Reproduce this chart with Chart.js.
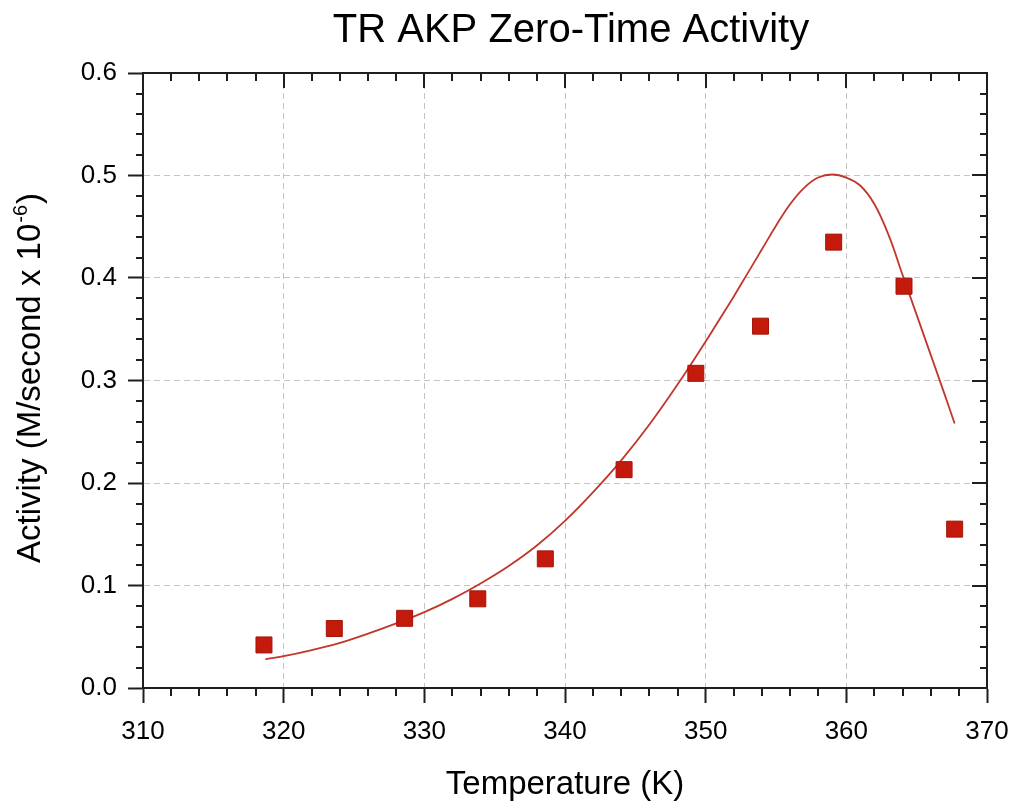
<!DOCTYPE html>
<html>
<head>
<meta charset="utf-8">
<title>TR AKP Zero-Time Activity</title>
<script src="https://cdn.jsdelivr.net/npm/chart.js@4.4.0/dist/chart.umd.min.js"></script>
<style>
  body { margin: 0; background: #fff; }
  canvas { display: block; }
</style>
</head>
<body>
<canvas id="chart" width="1015" height="809"></canvas>
<script>
// measured zero-time activity (M/second x 10^-6) vs temperature (K)
const temperatures = [318.6, 323.6, 328.6, 333.8, 338.6, 344.2, 349.3, 353.9, 359.1, 364.1, 367.7];
const activity     = [0.042, 0.058, 0.068, 0.087, 0.126, 0.213, 0.307, 0.353, 0.435, 0.392, 0.155];

// fitted model curve
const fitTemps = [318.7, 320, 322, 324, 326, 328, 330, 332, 334, 336, 338, 340, 342, 344, 346, 348,
                  350, 351, 352, 353, 354, 355, 356, 357, 358, 359, 360, 361, 362, 363, 364, 365, 366, 367, 367.7];
const fitActivity = [0.028, 0.031, 0.037, 0.044, 0.053, 0.063, 0.074, 0.087, 0.102, 0.119, 0.139, 0.163,
                     0.191, 0.222, 0.257, 0.296, 0.338, 0.360, 0.382, 0.405, 0.428, 0.451, 0.472, 0.488,
                     0.498, 0.501, 0.498, 0.490, 0.472, 0.442, 0.403, 0.364, 0.325, 0.286, 0.258];

const xTicks = [310, 320, 330, 340, 350, 360, 370];
const yTicks = [0.0, 0.1, 0.2, 0.3, 0.4, 0.5, 0.6];

const axisColor = '#1e1e1e';
const gridColor = '#c4c4c4';
const fontFamily = '"Liberation Sans", Arial, Helvetica, sans-serif';

// hide the grid lines that fall on the frame
const innerGrid = ctx => (ctx.index === 0 || ctx.index === ctx.scale.ticks.length - 1) ? 'rgba(0,0,0,0)' : gridColor;

// top/right frame, minor ticks, inward ticks, chart title and y title with superscript
const framePlugin = {
  id: 'frame',
  afterDraw(chart) {
    const { ctx, chartArea: a, scales: { x, y } } = chart;
    ctx.save();
    ctx.strokeStyle = axisColor;
    ctx.lineWidth = 2;
    ctx.beginPath();
    ctx.moveTo(a.left - 1, a.top);
    ctx.lineTo(a.right, a.top);
    ctx.lineTo(a.right, a.bottom + 1);
    ctx.stroke();

    ctx.beginPath();
    for (let i = 0; i <= 30; i++) {
      const px = Math.round(x.getPixelForValue(310 + 2 * i));
      const major = i % 5 === 0;
      if (!major) {
        ctx.moveTo(px, a.bottom);
        ctx.lineTo(px, a.bottom + 8);
      }
      ctx.moveTo(px, a.top);
      ctx.lineTo(px, a.top + (major ? 15 : 8));
    }
    for (let i = 0; i <= 30; i++) {
      const py = Math.round(y.getPixelForValue(0.02 * i));
      const major = i % 5 === 0;
      if (!major) {
        ctx.moveTo(a.left, py);
        ctx.lineTo(a.left - 7, py);
      }
      ctx.moveTo(a.right, py);
      ctx.lineTo(a.right - (major ? 15 : 7), py);
    }
    ctx.stroke();

    ctx.fillStyle = '#000';
    ctx.textAlign = 'center';
    ctx.textBaseline = 'alphabetic';
    ctx.font = '40px ' + fontFamily;
    ctx.fillText('TR AKP Zero-Time Activity', 571, 42);

    // rotated y-axis title
    const main = 'Activity (M/second x 10';
    const sup = '-6';
    const close = ')';
    ctx.translate(40, 379);
    ctx.rotate(-Math.PI / 2);
    ctx.font = '33px ' + fontFamily;
    const wMain = ctx.measureText(main).width;
    const wClose = ctx.measureText(close).width;
    ctx.font = '20px ' + fontFamily;
    const wSup = ctx.measureText(sup).width;
    let start = -(wMain + wSup + wClose) / 2;
    ctx.textAlign = 'left';
    ctx.font = '33px ' + fontFamily;
    ctx.fillText(main, start, 0);
    ctx.font = '20px ' + fontFamily;
    ctx.fillText(sup, start + wMain + 1, -13);
    ctx.font = '33px ' + fontFamily;
    ctx.fillText(close, start + wMain + wSup + 2, 0);
    ctx.restore();
  }
};

new Chart(document.getElementById('chart'), {
  type: 'scatter',
  data: {
    datasets: [{
      label: 'Measured',
      data: temperatures.map((t, i) => ({ x: t, y: activity[i] })),
      pointStyle: 'rect',
      pointRadius: 11.3,
      pointBackgroundColor: '#c41a0c',
      pointBorderColor: '#a51409',
      pointBorderWidth: 1
    }, {
      label: 'Fit',
      data: fitTemps.map((t, i) => ({ x: t, y: fitActivity[i] })),
      showLine: true,
      pointRadius: 0,
      borderColor: '#c2362b',
      borderWidth: 1.8,
      tension: 0.4,
      fill: false
    }]
  },
  options: {
    responsive: false,
    animation: false,
    layout: { padding: { top: 73, right: 28, bottom: 0, left: 0 } },
    plugins: {
      legend: { display: false },
      tooltip: { enabled: false }
    },
    scales: {
      x: {
        type: 'linear',
        position: 'bottom',
        min: 310,
        max: 370,
        afterBuildTicks: scale => { scale.ticks = xTicks.map(v => ({ value: v })); },
        afterFit: scale => {
          scale.height = 121;
          scale.paddingLeft = 0;
          scale.paddingRight = 0;
        },
        ticks: {
          color: '#000',
          padding: 13,
          font: { family: fontFamily, size: 26 },
          maxRotation: 0
        },
        grid: {
          color: innerGrid,
          lineWidth: 1,
          tickColor: axisColor,
          tickLength: 15,
          tickWidth: 2
        },
        border: { display: true, color: axisColor, width: 2, dash: [6, 4] },
        title: {
          display: true,
          text: 'Temperature (K)',
          color: '#000',
          font: { family: fontFamily, size: 33 },
          padding: { top: 0, bottom: 4 }
        }
      },
      y: {
        type: 'linear',
        position: 'left',
        min: 0,
        max: 0.6,
        afterBuildTicks: scale => { scale.ticks = yTicks.map(v => ({ value: v })); },
        afterFit: scale => { scale.width = 143; },
        ticks: {
          color: '#000',
          padding: 11,
          font: { family: fontFamily, size: 26 },
          callback: v => v.toFixed(1)
        },
        grid: {
          color: innerGrid,
          lineWidth: 1,
          tickColor: axisColor,
          tickLength: 15,
          tickWidth: 2
        },
        border: { display: true, color: axisColor, width: 2, dash: [6, 4] }
      }
    }
  },
  plugins: [framePlugin]
});
</script>
</body>
</html>
